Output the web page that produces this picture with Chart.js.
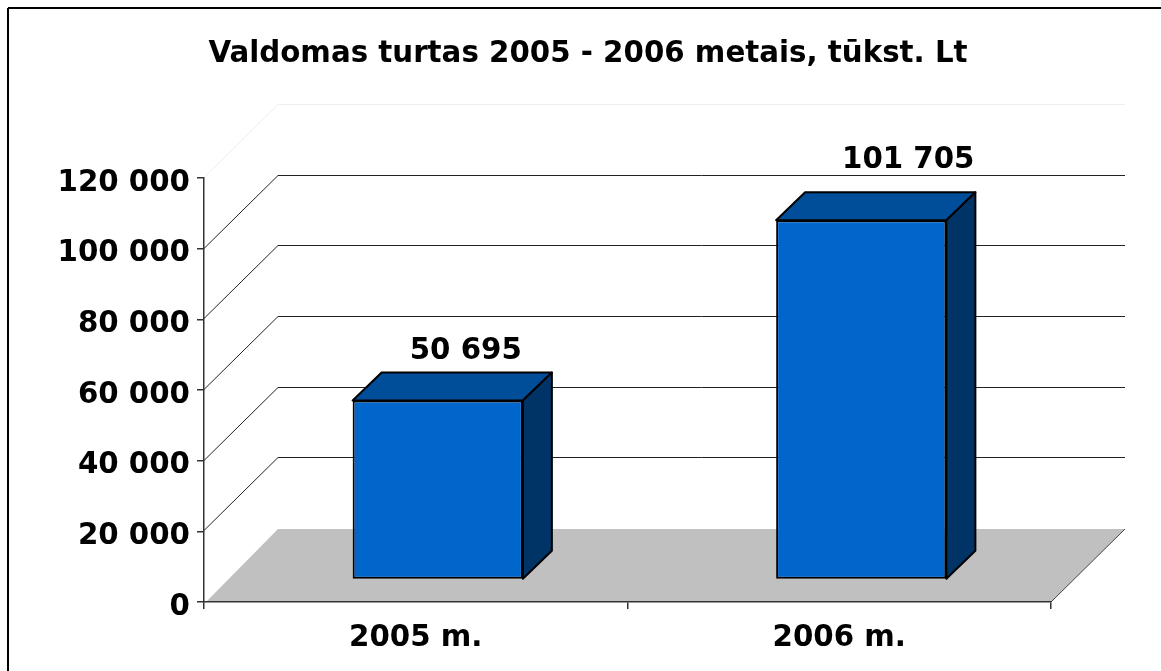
<!DOCTYPE html>
<html>
<head>
<meta charset="utf-8">
<title>Valdomas turtas</title>
<script src="https://cdn.jsdelivr.net/npm/chart.js@4"></script>
<style>
	html, body { margin: 0; padding: 0; background: #fff; overflow: hidden; }
	#wrap { position: relative; width: 1161px; height: 671px; }
</style>
</head>
<body>
<div id="wrap"><canvas id="chart"></canvas></div>
<script>
const categories = ['2005 m.', '2006 m.']
const values = [50695, 101705]
const yTicks = [0, 20000, 40000, 60000, 80000, 100000, 120000]
const titleText = 'Valdomas turtas 2005 - 2006 metais, tūkst. Lt'

// depth of the fake 3d room and of the bars
const wallDx = 74
const wallDy = 73
const barShiftX = 22
const barShiftY = 22.5
const barDepthX = 29
const barDepthY = 28
// labels were moved by hand in the original, so each has its own offset
const labelNudge = [[28, -49], [47, -60]]

const FONT = '"DejaVu Sans", Verdana, sans-serif'
const fontSize = 29.3
const fmt = v => String(v).replace(/\B(?=(\d{3})+(?!\d))/g, ' ')

const poly = (ctx, pts, fill, stroke, lw) => {
	ctx.beginPath()
	pts.forEach((p, i) => i ? ctx.lineTo(p[0], p[1]) : ctx.moveTo(p[0], p[1]))
	ctx.closePath()
	if (fill) { ctx.fillStyle = fill; ctx.fill() }
	if (stroke) { ctx.strokeStyle = stroke; ctx.lineWidth = lw; ctx.lineJoin = 'round'; ctx.stroke() }
}

const line = (ctx, x1, y1, x2, y2, color, lw) => {
	ctx.beginPath()
	ctx.moveTo(x1, y1)
	ctx.lineTo(x2, y2)
	ctx.strokeStyle = color
	ctx.lineWidth = lw
	ctx.stroke()
}

const room = {
	id: 'room',
	beforeDraw: chart => {
		const ctx = chart.ctx
		const { x, y } = chart.scales
		const left = x.left
		const right = x.right
		const base = y.getPixelForValue(0)
		ctx.save()
		// frame, only top and left are inside the picture
		line(ctx, 8, 8, 1161, 8, '#000', 2)
		line(ctx, 8, 8, 8, 671, '#000', 2)
		// floor
		poly(ctx, [[left + 2, base], [left + wallDx, base - wallDy], [right + wallDx, base - wallDy], [right, base]], '#c0c0c0')
		line(ctx, right, base, right + wallDx, base - wallDy, '#444', 1)
		// walls
		yTicks.forEach(t => {
			if (t === 0) return
			const py = Math.round(y.getPixelForValue(t)) - 0.5
			const col = t === 120000 ? '#eeeeee' : '#222'
			line(ctx, left, py, left + wallDx, py - wallDy, col, 1)
			line(ctx, left + wallDx, py - wallDy, right + wallDx, py - wallDy, col, 1)
		})
		ctx.restore()
	},
	beforeDatasetsDraw: chart => {
		const ctx = chart.ctx
		ctx.save()
		ctx.translate(barShiftX, -barShiftY)
		chart.getDatasetMeta(0).data.forEach(bar => {
			const l = bar.x - bar.width / 2
			const r = bar.x + bar.width / 2
			poly(ctx, [[l, bar.y], [l + barDepthX, bar.y - barDepthY], [r + barDepthX, bar.y - barDepthY], [r, bar.y]], '#004d99', '#000', 2)
			poly(ctx, [[r, bar.y], [r + barDepthX, bar.y - barDepthY], [r + barDepthX, bar.base - barDepthY], [r, bar.base]], '#003366', '#000', 2)
		})
	},
	afterDatasetsDraw: chart => {
		const ctx = chart.ctx
		ctx.restore()
		ctx.save()
		ctx.font = 'bold ' + fontSize + 'px ' + FONT
		ctx.fillStyle = '#000'
		ctx.textAlign = 'center'
		ctx.textBaseline = 'middle'
		chart.getDatasetMeta(0).data.forEach((bar, i) => {
			ctx.fillText(fmt(values[i]), bar.x + barShiftX + labelNudge[i][0], bar.y - barShiftY + labelNudge[i][1])
		})
		ctx.restore()
	}
}

new Chart(document.getElementById('chart'), {
	type: 'bar',
	data: {
		labels: categories,
		datasets: [{
			data: values,
			backgroundColor: '#0066cc',
			borderColor: '#000',
			borderWidth: 2,
			borderSkipped: false,
			barPercentage: 0.402,
			categoryPercentage: 1
		}]
	},
	plugins: [room],
	options: {
		responsive: true,
		maintainAspectRatio: false,
		animation: false,
		layout: { padding: { left: 15, right: 0, top: 0, bottom: 0 } },
		plugins: {
			legend: { display: false },
			tooltip: { enabled: false },
			title: {
				display: true,
				text: titleText,
				color: '#000',
				font: { family: FONT, size: fontSize, weight: 'bold', lineHeight: 1.2 },
				padding: { top: 37, bottom: 106 }
			}
		},
		scales: {
			x: {
				grid: { drawOnChartArea: false, color: '#333', lineWidth: 1.5, tickLength: 7, offset: true },
				border: { color: '#333', width: 1.5 },
				ticks: { color: '#000', font: { family: FONT, size: fontSize, weight: 'bold' }, padding: 12, maxRotation: 0 },
				afterFit: s => { s.height = 69 }
			},
			y: {
				min: 0,
				max: 120000,
				afterBuildTicks: s => { s.ticks = yTicks.map(v => ({ value: v })) },
				grid: { drawOnChartArea: false, color: '#333', lineWidth: 1.5, tickLength: 7 },
				border: { color: '#333', width: 1.5 },
				ticks: { color: '#000', font: { family: FONT, size: fontSize, weight: 'bold' }, padding: 7, labelOffset: 5, callback: v => fmt(v) },
				afterFit: s => { s.width = 189 }
			},
			// empty axis, only reserves the space right of the floor so the title stays centred
			spacer: {
				position: 'right',
				grid: { display: false },
				border: { display: false },
				ticks: { display: false },
				afterFit: s => { s.width = 110 }
			}
		}
	}
})
</script>
</body>
</html>
